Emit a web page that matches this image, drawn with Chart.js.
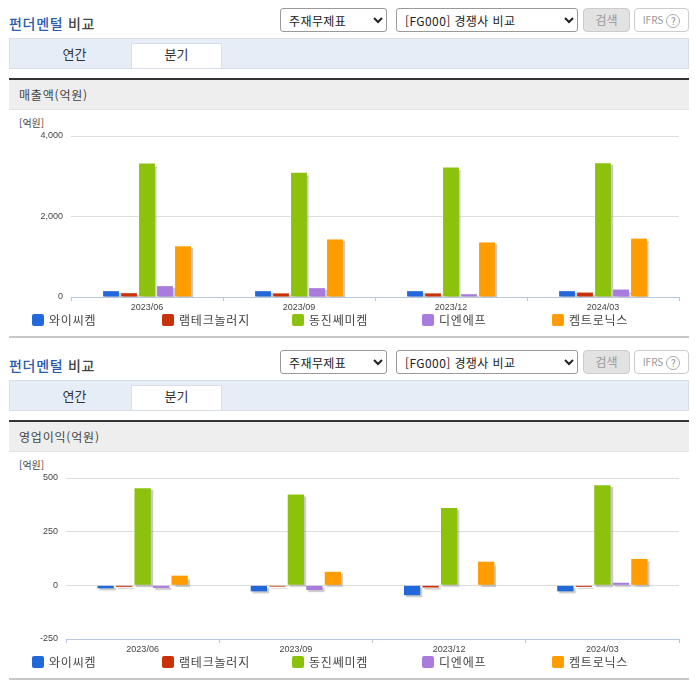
<!DOCTYPE html>
<html lang="ko"><head><meta charset="utf-8">
<script src="https://cdn.jsdelivr.net/npm/chart.js@4"></script>
<style>
html,body{margin:0;padding:0;background:#fff;width:696px;height:684px;overflow:hidden;font-family:"Noto Sans CJK KR","Liberation Sans",sans-serif;color:#333}
.abs{position:absolute;white-space:nowrap}
.sec{position:absolute;left:0;width:696px;height:342px}
.title{left:9px;top:13px;font-size:14px;line-height:20px;font-weight:500;color:#2b5cab;letter-spacing:.7px}
.title span{color:#444}
select{position:absolute;top:8px;height:24px;font:12px "Noto Sans CJK KR",sans-serif;letter-spacing:.4px;color:#222;background:#fff;border:1px solid #999;border-radius:3px;padding:0 0 0 4px}
.btn{top:8px;height:22px;border:1px solid #ccc;border-radius:4px;font-size:12px;line-height:22px;text-align:center;color:#999}
.tabs{left:9px;top:38px;width:678px;height:29px;background:#e6edf7;border:1px solid #d8dfe9}
.tab{top:43px;height:25px;width:91px;text-align:center;font-size:13px;line-height:22px;color:#333}
.on{left:131px;background:#fff;border:1px solid #d8dfe9;border-bottom:0;box-sizing:border-box;line-height:20px}
.bar{left:9px;top:78px;width:680px;height:2px;background:#333}
.head{left:9px;top:80px;width:680px;height:30px;background:#eee;font-size:12px;letter-spacing:.8px;line-height:30px;text-indent:10px;color:#444;border-bottom:1px solid #e2e2e2;box-sizing:border-box}
.unit{left:19px;top:116px;font-size:10px;line-height:13px;color:#444}
.end{left:9px;top:336px;width:680px;height:2.4px;background:#c8c8c8}
.lg{top:312px;font-size:12px;line-height:16px;letter-spacing:.8px;color:#444;padding-left:17px}
.lg i{position:absolute;left:0;top:2px;width:12px;height:12px;border-radius:2px}
.q{display:inline-block;width:12px;height:12px;border:1px solid #aaa;border-radius:50%;font-size:10px;line-height:12px;margin-left:3px;color:#888;vertical-align:-1px}
canvas{position:absolute;left:0}
</style></head><body>
<div id="root"></div>
<script>
const categories=["2023/06","2023/09","2023/12","2024/03"];
const companies=["와이씨켐","램테크놀러지","동진쎄미켐","디엔에프","켐트로닉스"];
const colors=["#2368d8","#c93208","#8cc20c","#a87bdc","#ff9c00"];
const revenue0=[145,145,145,145];
const revenue1=[95,90,90,110];
const revenue2=[3316,3090,3215,3320];
const revenue3=[270,220,70,185];
const revenue4=[1260,1430,1355,1450];
const profit0=[-14,-28,-46,-28];
const profit1=[-7,-6,-10,-7];
const profit2=[452,423,360,466];
const profit3=[-12,-22,0,12];
const profit4=[45,63,110,123];
const revenueTicks=[0,2000,4000];
const profitTicks=[-250,0,250,500];
const sectionTitles=["매출액(억원)","영업이익(억원)"];

const root=document.getElementById('root');
function section(top,title){
  const s=document.createElement('div');s.className='sec';s.style.top=top+'px';
  s.innerHTML=`<div class="abs title">펀더멘털 <span>비교</span></div>
  <select style="left:280px;width:107px"><option>주재무제표</option></select>
  <select style="left:396px;width:182px"><option>[FG000] 경쟁사 비교</option></select>
  <div class="abs btn" style="left:583px;width:45px;background:#e2e2e2">검색</div>
  <div class="abs btn" style="left:634px;width:53px;background:#fff;font-size:10px">IFRS<span class="q">?</span></div>
  <div class="abs tabs"></div>
  <div class="abs tab" style="left:29px">연간</div>
  <div class="abs tab on">분기</div>
  <div class="abs bar"></div>
  <div class="abs head">${title}</div>
  <div class="abs unit">[억원]</div>
  <div class="abs end"></div>
  <canvas width="696" height="226" style="top:110px;width:696px;height:226px"></canvas>`;
  companies.forEach((n,i)=>{
    const d=document.createElement('div');d.className='abs lg';d.style.left=(32+130*i)+'px';
    d.innerHTML=`<i style="background:${colors[i]}"></i>${n}`;s.appendChild(d);
  });
  root.appendChild(s);
  return s.querySelector('canvas');
}
const shadow={id:'shadow',
  beforeDatasetsDraw(c){const x=c.ctx;x.save();x.shadowColor='rgba(150,150,150,.5)';x.shadowOffsetX=2;x.shadowOffsetY=2;x.shadowBlur=1;},
  afterDatasetsDraw(c){c.ctx.restore();}};
Chart.defaults.font.family='"Liberation Sans",sans-serif';
function build(canvas,series,ticks,min,max,left,top,plotH,catPct){
  new Chart(canvas,{type:'bar',plugins:[shadow],
    data:{labels:categories,datasets:series.map((d,i)=>({label:companies[i],data:d,backgroundColor:colors[i],borderWidth:0,categoryPercentage:catPct,barPercentage:.88}))},
    options:{responsive:false,animation:false,
      layout:{padding:{left:0,right:17,top:top,bottom:0}},
      plugins:{legend:{display:false},tooltip:{enabled:false}},
      scales:{
        x:{border:{color:'#b8c8dc'},grid:{drawOnChartArea:false,tickLength:4,color:'#b8c8dc',offset:true},
          ticks:{color:'#444',font:{size:9},padding:1,maxRotation:0},
          afterFit(a){a.height=226-top-plotH;}},
        y:{min,max,border:{display:false},grid:{color:'#ddd',drawTicks:false},
          afterBuildTicks(a){a.ticks=ticks.map(v=>({value:v}));},
          ticks:{color:'#444',font:{size:9},padding:8,callback:v=>v.toLocaleString('en-US')},
          afterFit(a){a.width=left;}}
      }}});
}
const c1=section(0,sectionTitles[0]);
const c2=section(342,sectionTitles[1]);
build(c1,[revenue0,revenue1,revenue2,revenue3,revenue4],revenueTicks,0,4000,71,26,161,.592);
build(c2,[profit0,profit1,profit2,profit3,profit4],profitTicks,-250,500,66,26,161,.604);
</script>
</body></html>
